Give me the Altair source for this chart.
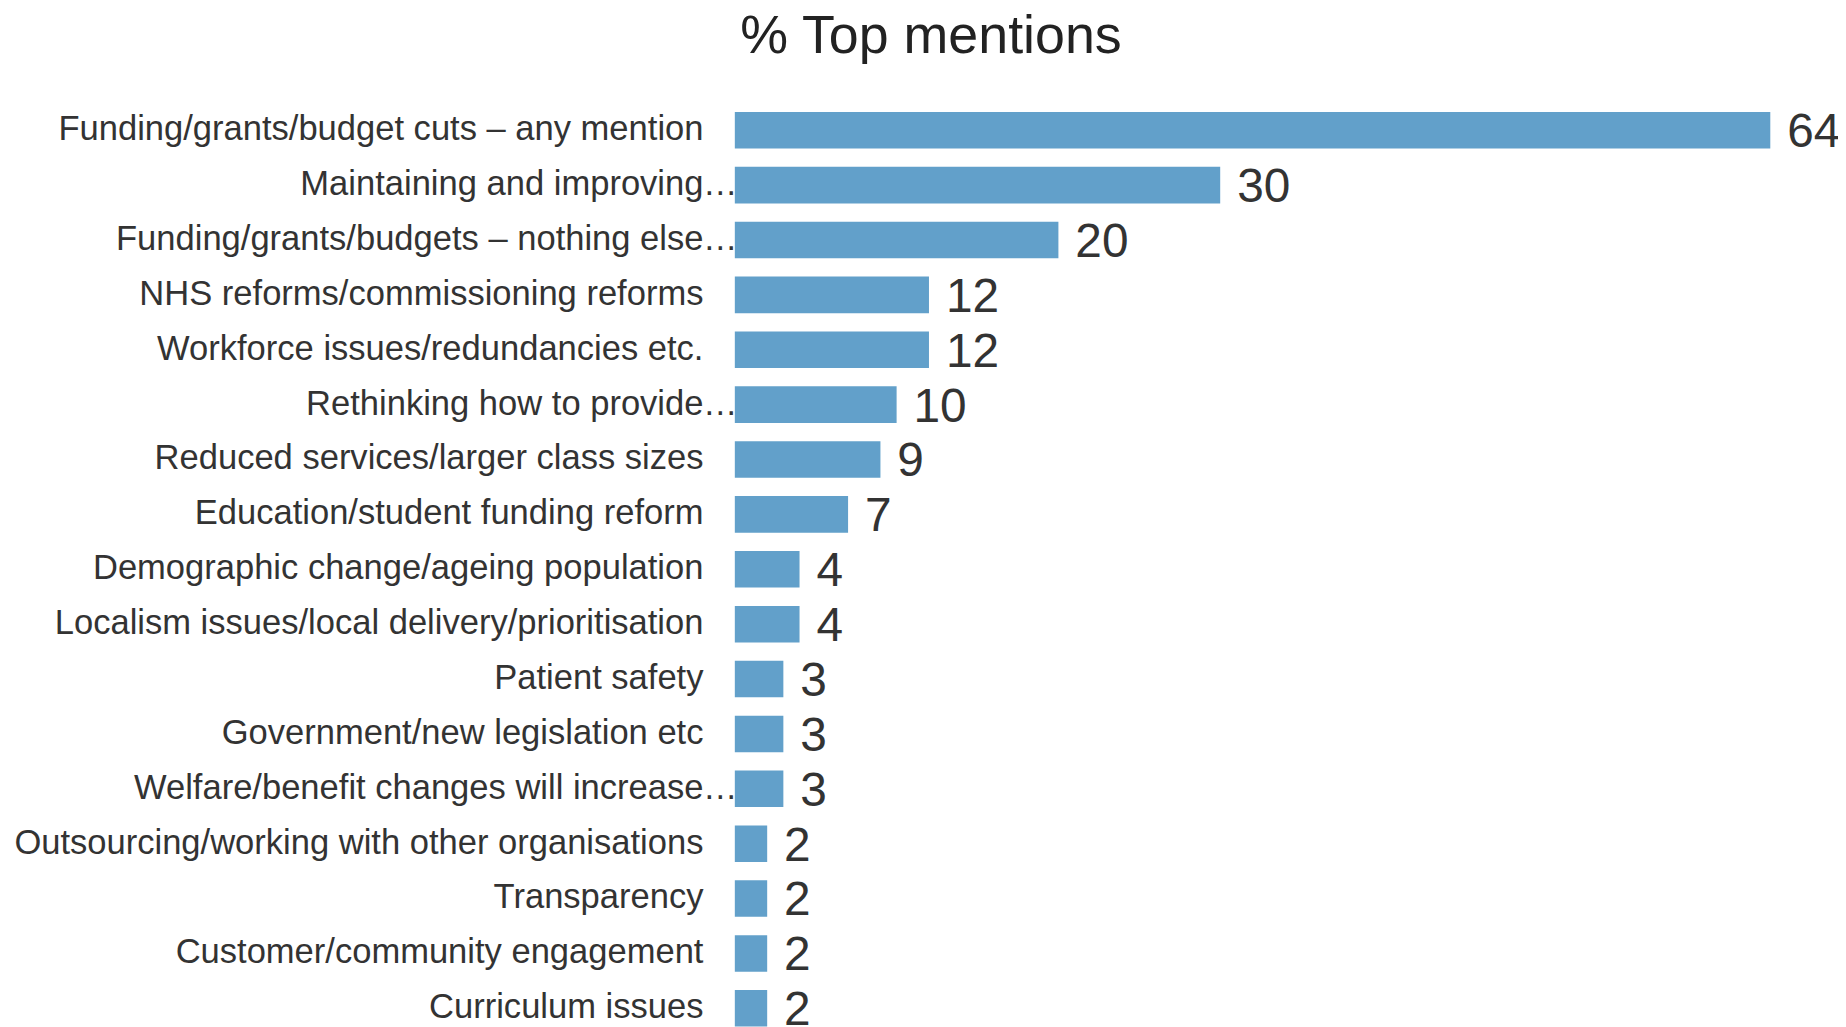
import altair as alt
import pandas as pd

title_text = "% Top mentions"

labels = [
    "Funding/grants/budget cuts – any mention",
    "Maintaining and improving…",
    "Funding/grants/budgets – nothing else…",
    "NHS reforms/commissioning reforms",
    "Workforce issues/redundancies etc.",
    "Rethinking how to provide…",
    "Reduced services/larger class sizes",
    "Education/student funding reform",
    "Demographic change/ageing population",
    "Localism issues/local delivery/prioritisation",
    "Patient safety",
    "Government/new legislation etc",
    "Welfare/benefit changes will increase…",
    "Outsourcing/working with other organisations",
    "Transparency",
    "Customer/community engagement",
    "Curriculum issues",
]
values = [64, 30, 20, 12, 12, 10, 9, 7, 4, 4, 3, 3, 3, 2, 2, 2, 2]

base = [l[:-1] if l.endswith("…") else l for l in labels]
suffix = ["…" if l.endswith("…") else "" for l in labels]
df = pd.DataFrame({"label": base, "suffix": suffix, "value": values})
title_df = pd.DataFrame({"t": [title_text]})

FONT = "Liberation Sans"
PLOT_W = 1040
PLOT_H = 937

y = alt.Y(
    "label:N",
    sort=base,
    title=None,
    scale=alt.Scale(paddingInner=0.334, paddingOuter=0.167),
    axis=alt.Axis(
        labelFontSize=34.7,
        labelFont=FONT,
        labelColor="#333333",
        labelPadding=32,
        ticks=False,
        domain=False,
        labelLimit=0,
        grid=False,
    ),
)
x = alt.X("value:Q", scale=alt.Scale(domain=[0, 64], nice=False, zero=True), axis=None)

bars = alt.Chart(df).mark_bar(color="#62A0CA").encode(x=x, y=y)
vals = alt.Chart(df).mark_text(
    align="left", baseline="middle", dx=17, dy=3, fontSize=48, font=FONT, color="#333333"
).encode(x=x, y=y, text="value:Q")
ell = alt.Chart(df).mark_text(
    align="left", baseline="middle", fontSize=34.7, font=FONT, color="#333333"
).encode(x=alt.value(-32), y=y, text="suffix:N")
ttl = alt.Chart(title_df).mark_text(
    align="center", baseline="alphabetic", fontSize=54, font=FONT, color="#222222"
).encode(x=alt.value(197), y=alt.value(-50), text="t:N")

chart = (
    alt.layer(bars, vals, ell, ttl)
    .properties(
        width=PLOT_W,
        height=PLOT_H,
        autosize=alt.AutoSizeParams(type="none"),
        padding={"left": 730, "top": 93, "right": 68, "bottom": -11},
    )
    .configure_view(stroke=None)
)

chart.save("out.html", embed_options={"renderer": "svg", "actions": False})
